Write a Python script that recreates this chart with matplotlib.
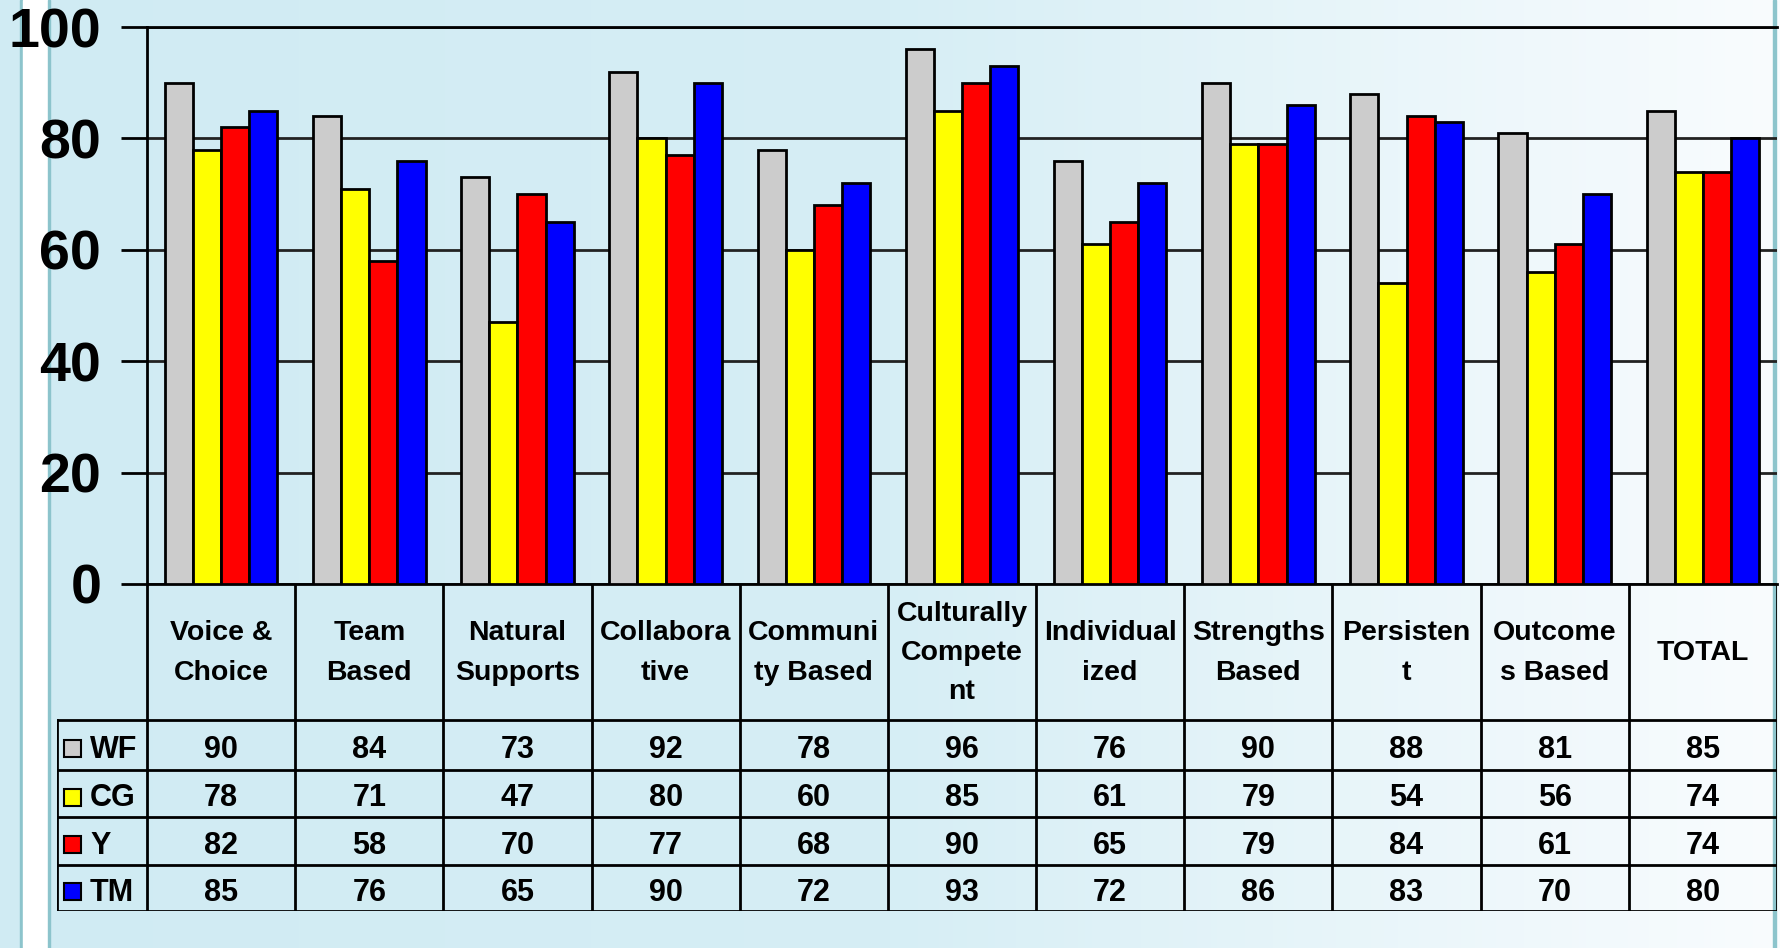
import numpy as np
import matplotlib
matplotlib.use('Agg')
import matplotlib.pyplot as plt
from matplotlib.patches import Rectangle
from matplotlib.colors import LinearSegmentedColormap

categories = ["Voice &\nChoice", "Team\nBased", "Natural\nSupports", "Collabora\ntive",
              "Communi\nty Based", "Culturally\nCompete\nnt", "Individual\nized",
              "Strengths\nBased", "Persisten\nt", "Outcome\ns Based", "TOTAL"]
series_names = ["WF", "CG", "Y", "TM"]
wf = [90, 84, 73, 92, 78, 96, 76, 90, 88, 81, 85]
cg = [78, 71, 47, 80, 60, 85, 61, 79, 54, 56, 74]
y_ = [82, 58, 70, 77, 68, 90, 65, 79, 84, 61, 74]
tm = [85, 76, 65, 90, 72, 93, 72, 86, 83, 70, 80]
colors = ["#cccccc", "#ffff00", "#ff0000", "#0000ff"]
yticks = [0, 20, 40, 60, 80, 100]

plt.rcParams['font.family'] = ['Liberation Sans', 'DejaVu Sans']
plt.rcParams['font.weight'] = 'bold'

W, H = 1781, 948
fig = plt.figure(figsize=(W / 100, H / 100), dpi=100)

# background gradient + side stripes
bg = fig.add_axes([0, 0, 1, 1])
grad = np.linspace(0, 1, 256)[None, :]
cmap = LinearSegmentedColormap.from_list("bg", ["#d0ebf3", "#d6eef5", "#f9fcfe"])
bg.imshow(grad, aspect='auto', cmap=cmap, extent=[0, W, 0, H])
bg.set_xlim(0, W)
bg.set_ylim(H, 0)
bg.add_patch(Rectangle((20, 0), 3, H, color="#8cc4cc"))
bg.add_patch(Rectangle((23, 0), 25, H, color="white"))
bg.add_patch(Rectangle((48, 0), 2, H, color="#8cc4cc"))
bg.add_patch(Rectangle((1773, 0), 3, H, color="#8cc4cc"))
bg.axis('off')

# bar chart
left, right, top, bot = 147, 1777, 27, 584
ax = fig.add_axes([left / W, 1 - bot / H, (right - left) / W, (bot - top) / H])
ax.patch.set_alpha(0)
n = len(categories)
x = np.arange(n)
bw = 0.19
for k, vals in enumerate([wf, cg, y_, tm]):
    ax.bar(x + (k - 1.5) * bw, vals, bw, color=colors[k], edgecolor='black',
           linewidth=2, zorder=3)
ax.set_xlim(-0.5, n - 0.5)
ax.set_ylim(0, 100)
ax.set_yticks(yticks)
ax.set_yticklabels([str(t) for t in yticks], fontsize=40, fontweight='bold')
ax.tick_params(axis='y', length=19, width=2, pad=14)
ax.set_xticks([])
ax.grid(axis='y', color='#222222', linewidth=2, zorder=0)
for s in ['top', 'right', 'left', 'bottom']:
    ax.spines[s].set_linewidth(2)
ax.spines['right'].set_visible(False)

# data table below the bars
colw = (right - left) / n
tleft = 57
tab = fig.add_axes([tleft / W, 1 - 911 / H, (right - tleft) / W, (911 - bot) / H])
tab.set_xlim(-0.5 - (left - tleft) / colw, n - 0.5)
tab.set_ylim(911 - bot, 0)
tab.axis('off')
row_edges = [0, 136, 186, 233, 281, 327]
lkw = dict(color='black', linewidth=2, solid_capstyle='projecting')
for i in range(n + 1):
    tab.plot([i - 0.5, i - 0.5], [0, row_edges[-1]], **lkw)
xl0 = tab.get_xlim()[0]
tab.plot([xl0, xl0], [row_edges[1], row_edges[-1]], **lkw)
for r in row_edges[1:]:
    tab.plot([xl0, n - 0.5], [r, r], **lkw)

for i, lab in enumerate(categories):
    tab.text(i, row_edges[1] / 2 + 1, lab, ha='center', va='center', fontsize=20.5,
             fontweight='bold', linespacing=1.65)

sq_w = 17 / colw
for k, (name, vals) in enumerate(zip(series_names, [wf, cg, y_, tm])):
    yc = (row_edges[k + 1] + row_edges[k + 2]) / 2
    tab.add_patch(Rectangle((xl0 + 7 / colw, yc - 5), sq_w, 17, facecolor=colors[k],
                            edgecolor='black', linewidth=1.5))
    tab.text(xl0 + 33 / colw, yc + 5, name, ha='left', va='center', fontsize=22,
             fontweight='bold')
    for i, v in enumerate(vals):
        tab.text(i, yc + 5, str(v), ha='center', va='center', fontsize=22,
                 fontweight='bold')

fig.savefig("out.png", dpi=100)
